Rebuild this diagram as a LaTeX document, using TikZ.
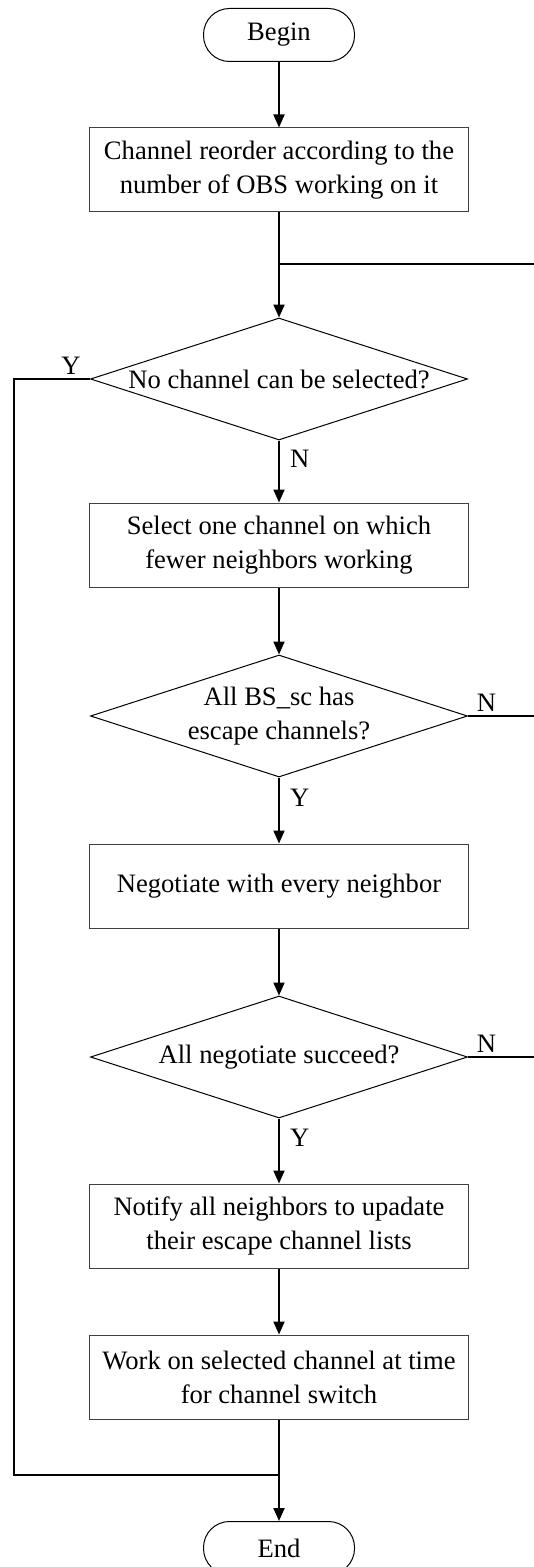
\documentclass[tikz,border=0pt]{standalone}
\usepackage{fontspec}
\setmainfont{Liberation Serif}
\usetikzlibrary{arrows.meta,shapes.geometric}

\begin{document}
\begin{tikzpicture}[x=0.5pt,y=-0.5pt,
           every node/.style={inner sep=2pt,font=\fontsize{13.3pt}{17pt}\selectfont},
           >={Triangle[length=6.5pt,width=5.5pt]},
           line/.style={line width=1pt},
           procbox/.style={draw=black!75,line width=0.5pt,minimum width=189.5pt,
             minimum height=42pt,align=center},
           decision/.style={draw,diamond,line width=0.5pt,aspect=3.09,inner sep=0pt,
             minimum width=188.5pt,minimum height=61pt,align=center},
           term/.style={draw,rounded corners=13pt,line width=0.5pt,
             minimum width=75.5pt,minimum height=26.5pt}]
           \useasboundingbox (0,0) rectangle (534,1567);
           % nodes
           \node[term] (begin) at (279,35) {Begin};
           \node[procbox] (reorder) at (279,170)
             {Channel reorder according to the\\number of OBS working on it};
           \node[decision] (nosel) at (279,379) {No channel can be selected?};
           \node[procbox] (select) at (279,545)
             {Select one channel on which\\fewer neighbors working};
           \node[decision] (escape) at (279,716) {All BS\_sc has\\escape channels?};
           \node[procbox] (negot) at (279,886) {Negotiate with every neighbor};
           \node[decision] (allok) at (279,1057) {All negotiate succeed?};
           \node[procbox] (notify) at (279,1226)
             {Notify all neighbors to upadate\\their escape channel lists};
           \node[procbox] (work) at (279,1377)
             {Work on selected channel at time\\for channel switch};
           \node[term] (stop) at (279,1548) {End};
           % free ends
           \coordinate (m1) at (279,264);
           \coordinate (r1) at (534,264);
           \coordinate (r2) at (534,716);
           \coordinate (r3) at (534,1057);
           \coordinate (lft) at (14,1475);
           \coordinate (m2) at (279,1475);
           % connectors
           \draw[line,->](begin)--(reorder);
           \draw[line,->](reorder)--(nosel);
           \draw[line](m1)--(r1);
           \draw[line,->](nosel)--node[pos=0.3,right,xshift=3pt]{N}(select);
           \draw[line,->](select)--(escape);
           \draw[line](escape.east)--node[pos=0.28,above]{N}(r2);
           \draw[line,->](escape)--node[pos=0.3,right,xshift=3pt]{Y}(negot);
           \draw[line,->](negot)--(allok);
           \draw[line](allok.east)--node[pos=0.28,above]{N}(r3);
           \draw[line,->](allok)--node[pos=0.3,right,xshift=3pt]{Y}(notify);
           \draw[line,->](notify)--(work);
           \draw[line,->](work)--(stop);
           \draw[line](nosel.west)--node[pos=0.25,above]{Y}(lft|-nosel.west)
             --(lft)--(m2);
         \end{tikzpicture}
\end{document}
